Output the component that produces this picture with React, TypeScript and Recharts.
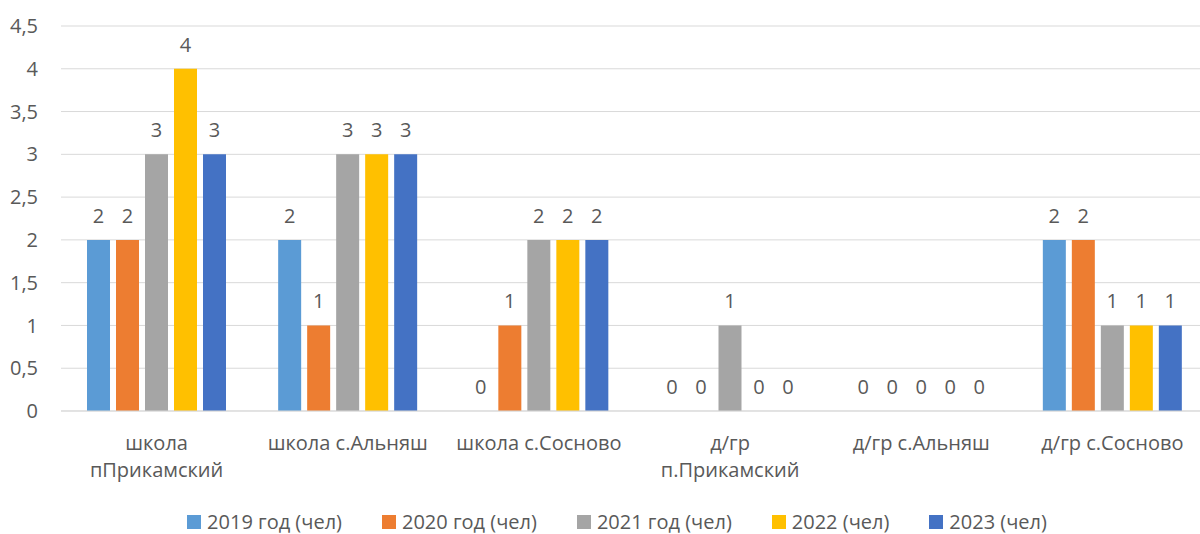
import { BarChart, Bar, XAxis, YAxis, CartesianGrid, Legend, LabelList } from 'recharts';

const categories = [
  'школа\nпПрикамский',
  'школа с.Альняш',
  'школа с.Сосново',
  'д/гр\nп.Прикамский',
  'д/гр с.Альняш',
  'д/гр с.Сосново',
];

const y2019 = [2, 2, 0, 0, 0, 2];
const y2020 = [2, 1, 1, 0, 0, 2];
const y2021 = [3, 3, 2, 1, 0, 1];
const y2022 = [4, 3, 2, 0, 0, 1];
const y2023 = [3, 3, 2, 0, 0, 1];

const yTicks = [0, 0.5, 1, 1.5, 2, 2.5, 3, 3.5, 4, 4.5];

const series = [
  { key: 'y2019', name: '2019 год (чел)', color: '#5B9BD5', values: y2019 },
  { key: 'y2020', name: '2020 год (чел)', color: '#ED7D31', values: y2020 },
  { key: 'y2021', name: '2021 год (чел)', color: '#A5A5A5', values: y2021 },
  { key: 'y2022', name: '2022 (чел)', color: '#FFC000', values: y2022 },
  { key: 'y2023', name: '2023 (чел)', color: '#4472C4', values: y2023 },
];

const data = categories.map((c, i) => {
  const row: any = { name: c };
  series.forEach((s) => (row[s.key] = s.values[i]));
  return row;
});

const FONT = '"Open Sans", sans-serif';
const TEXT = '#595959';
const FS = 20;

const CategoryTick = ({ x, y, payload }: any) => {
  const lines = String(payload.value).split('\n');
  return (
    <g transform={`translate(${x},${y})`}>
      {lines.map((l, i) => (
        <text key={i} x={0} y={31 + i * 27} textAnchor="middle" fill={TEXT} fontSize={FS} fontFamily={FONT}>
          {l}
        </text>
      ))}
    </g>
  );
};

// value label above each bar; uses the bar's bottom for near-zero bars
const ValueLabel = ({ x, y, width, height, value }: any) => {
  const top = Math.min(Number(y), Number(y) + Number(height));
  return (
    <text
      x={Number(x) + Number(width) / 2}
      y={top - 17}
      textAnchor="middle"
      fill={TEXT}
      fontSize={FS}
      fontFamily={FONT}
    >
      {value}
    </text>
  );
};

const LegendContent = () => (
  <div
    style={{
      height: 53,
      display: 'flex',
      justifyContent: 'center',
      alignItems: 'flex-start',
      paddingTop: 31,
      paddingLeft: 26,
      boxSizing: 'border-box',
      fontFamily: FONT,
      fontSize: FS,
      lineHeight: '20px',
      color: TEXT,
    }}
  >
    {series.map((s) => (
      <div key={s.key} style={{ display: 'flex', alignItems: 'center', margin: '0 20px', whiteSpace: 'nowrap' }}>
        <span style={{ width: 14, height: 14, background: s.color, marginRight: 6, display: 'inline-block' }} />
        <span>{s.name}</span>
      </div>
    ))}
  </div>
);

export default function App() {
  return (
    <div style={{ position: 'absolute', left: 0, top: 0, width: 1200, height: 534, overflow: 'hidden', background: '#fff' }}>
      <BarChart
        width={1208}
        height={534}
        data={data}
        margin={{ top: 26, right: 0, left: 0, bottom: 0 }}
        barSize={23}
        barGap={6}
      >
        <CartesianGrid vertical={false} stroke="#D9D9D9" strokeWidth={1} />
        <XAxis
          dataKey="name"
          height={70}
          tick={<CategoryTick />}
          tickLine={false}
          axisLine={{ stroke: '#D9D9D9' }}
          interval={0}
        />
        <YAxis
          width={61}
          domain={[0, 4.5]}
          ticks={yTicks}
          tickLine={false}
          axisLine={false}
          tickMargin={17}
          tick={{ fill: TEXT, fontSize: FS, fontFamily: FONT }}
          tickFormatter={(v) => String(v).replace('.', ',')}
        />
        <Legend verticalAlign="bottom" height={53} content={<LegendContent />} />
        {series.map((s) => (
          <Bar
            key={s.key}
            dataKey={s.key}
            name={s.name}
            fill={s.color}
            minPointSize={0.01}
            isAnimationActive={false}
          >
            <LabelList dataKey={s.key} content={<ValueLabel />} />
          </Bar>
        ))}
      </BarChart>
    </div>
  );
}
